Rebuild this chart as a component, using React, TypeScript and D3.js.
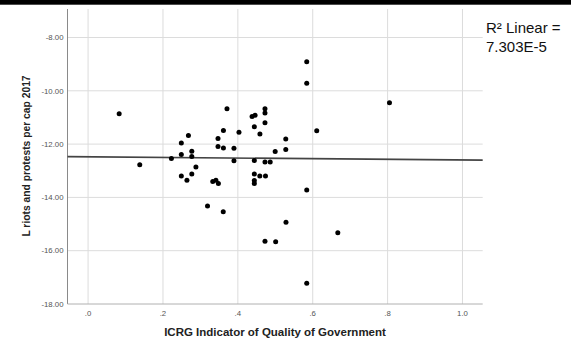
import React from "react";
import * as d3 from "d3";

const xTicks = [0, 0.2, 0.4, 0.6, 0.8, 1.0];
const xTickLabels = [".0", ".2", ".4", ".6", ".8", "1.0"];
const yTicks = [-8, -10, -12, -14, -16, -18];
const yTickLabels = ["-8.00", "-10.00", "-12.00", "-14.00", "-16.00", "-18.00"];

const qog = [
  0.083, 0.138, 0.2225, 0.249, 0.268, 0.249, 0.277, 0.277, 0.288, 0.277,
  0.249, 0.264, 0.371, 0.438, 0.446, 0.4725, 0.4725, 0.4725, 0.444, 0.3615,
  0.403, 0.459, 0.347, 0.528, 0.347, 0.3615, 0.3896, 0.4997, 0.528, 0.3896,
  0.444, 0.4725, 0.4864, 0.444, 0.4586, 0.4738, 0.444, 0.444, 0.333, 0.3414,
  0.348, 0.584, 0.584, 0.805, 0.6107, 0.584, 0.319, 0.361, 0.5286, 0.4725,
  0.501, 0.584, 0.667,
];
const riots = [
  -10.865, -12.77, -12.544, -11.954, -11.673, -12.386, -12.266, -12.469, -12.855, -13.118,
  -13.193, -13.355, -10.677, -10.967, -10.921, -10.677, -10.835, -11.196, -11.346, -11.485,
  -11.552, -11.616, -11.793, -11.804, -12.086, -12.142, -12.153, -12.281, -12.206, -12.623,
  -12.619, -12.675, -12.675, -13.118, -13.193, -13.193, -13.37, -13.475, -13.4, -13.355,
  -13.475, -8.913, -9.712, -10.445, -11.496, -13.719, -14.32, -14.534, -14.932, -15.642,
  -15.66, -17.223, -15.323,
];
const fitIntercept = -12.476;
const fitSlope = -0.117;
const legendLines = ["R\u00B2 Linear =", "7.303E-5"];
const xTitle = "ICRG Indicator of Quality of Government";
const yTitle = "L riots and protests per cap 2017";

const W = 571;
const H = 338;
const plot = { left: 67.5, right: 482.7, top: 9, bottom: 304 };
const xDomain = [-0.055, 1.054];
const yDomain = [-18, -6.93];

export default function App() {
  const x = d3.scaleLinear().domain(xDomain).range([plot.left, plot.right]);
  const y = d3.scaleLinear().domain(yDomain).range([plot.bottom, plot.top]);
  const fit = d3
    .line<number>()
    .x((d) => x(d))
    .y((d) => y(fitIntercept + fitSlope * d));
  const font = "'Liberation Sans', Arial, sans-serif";
  return (
    <svg
      width={W}
      height={H}
      style={{ position: "absolute", left: 0, top: 0, background: "#fff" }}
      fontFamily={font}
    >
      <rect x={0} y={0} width={W} height={H} fill="#fff" />
      <rect x={0} y={0} width={W} height={4.7} fill="#000" />
      {xTicks.map((t) => (
        <line key={"gx" + t} x1={x(t)} x2={x(t)} y1={plot.top} y2={plot.bottom} stroke="#dcdcdc" strokeWidth={1} />
      ))}
      {yTicks.slice(0, 5).map((t) => (
        <line key={"gy" + t} x1={plot.left} x2={plot.right} y1={y(t)} y2={y(t)} stroke="#dcdcdc" strokeWidth={1} />
      ))}
      <line x1={plot.left} x2={plot.left} y1={plot.top} y2={plot.bottom} stroke="#8a8a8a" strokeWidth={1} />
      <line x1={plot.left} x2={plot.right} y1={plot.bottom} y2={plot.bottom} stroke="#b0b0b0" strokeWidth={1} />
      {yTicks.map((t, i) => (
        <text key={"ly" + t} x={63.5} y={y(t)} dy="0.35em" textAnchor="end" fontSize={7.8} fill="#555">
          {yTickLabels[i]}
        </text>
      ))}
      {xTicks.map((t, i) => (
        <text key={"lx" + t} x={x(t)} y={316} textAnchor="middle" fontSize={7.8} fill="#555">
          {xTickLabels[i]}
        </text>
      ))}
      <path d={fit([xDomain[0], xDomain[1]]) || ""} stroke="#444" strokeWidth={1.6} fill="none" />
      {qog.map((q, i) => (
        <circle key={"p" + i} cx={x(q)} cy={y(riots[i])} r={2.5} fill="#000" />
      ))}
      <text x={275} y={336} textAnchor="middle" fontSize={11.5} fontWeight="bold" fill="#222">
        {xTitle}
      </text>
      <text
        transform={`translate(29.5,156) rotate(-90)`}
        textAnchor="middle"
        fontSize={10.3}
        fontWeight="bold"
        fill="#222"
      >
        {yTitle}
      </text>
      {legendLines.map((s, i) => (
        <text key={"lg" + i} x={486} y={33 + i * 18.8} fontSize={15} fill="#111">
          {s}
        </text>
      ))}
    </svg>
  );
}
